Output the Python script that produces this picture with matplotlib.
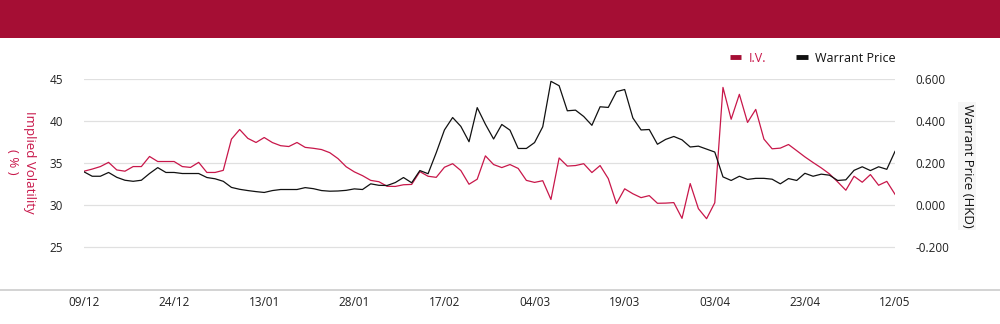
"""
Implied volatility vs warrant price, daily, 09/12 - 12/05.
"""

import matplotlib
matplotlib.use("Agg")
import matplotlib.pyplot as plt
from matplotlib.lines import Line2D
from matplotlib.patches import Rectangle
from matplotlib.ticker import FormatStrFormatter

plt.rcParams["font.family"] = ["Open Sans", "DejaVu Sans"]

# tick labels, one every 11 trading days
tick_labels = ["09/12", "24/12", "13/01", "28/01", "17/02",
               "04/03", "19/03", "03/04", "23/04", "12/05"]
tick_step = 11

# implied volatility (%), left axis
iv = [
    34.05, 34.3, 34.6, 35.1, 34.2, 34.05, 34.6, 34.6, 35.8, 35.2,
    35.2, 35.2, 34.6, 34.5, 35.1, 33.9, 33.9, 34.15, 37.86, 39.0,
    37.95, 37.46, 38.05, 37.45, 37.08, 36.98, 37.46, 36.88, 36.77, 36.62,
    36.25, 35.55, 34.58, 33.97, 33.52, 32.96, 32.8, 32.26, 32.24, 32.44,
    32.48, 34.0, 33.45, 33.32, 34.52, 34.94, 34.13, 32.5, 33.1, 35.87,
    34.84, 34.48, 34.84, 34.38, 32.96, 32.72, 32.92, 30.69, 35.62, 34.66,
    34.72, 34.94, 33.89, 34.72, 33.17, 30.2, 31.96, 31.37, 30.91, 31.15,
    30.24, 30.26, 30.32, 28.45, 32.58, 29.6, 28.41, 30.3, 44.0, 40.22,
    43.18, 39.84, 41.39, 37.86, 36.71, 36.79, 37.22, 36.49, 35.75, 35.08,
    34.44, 33.73, 32.78, 31.79, 33.45, 32.74, 33.65, 32.38, 32.84, 31.31,
]

# warrant price (HKD), right axis
price = [
    0.159, 0.138, 0.138, 0.156, 0.133, 0.119, 0.114, 0.119, 0.151, 0.179,
    0.156, 0.156, 0.151, 0.151, 0.151, 0.132, 0.126, 0.114, 0.085, 0.076,
    0.070, 0.065, 0.061, 0.070, 0.075, 0.075, 0.075, 0.084, 0.079, 0.070,
    0.067, 0.068, 0.071, 0.078, 0.075, 0.102, 0.095, 0.094, 0.108, 0.132,
    0.107, 0.165, 0.150, 0.250, 0.358, 0.417, 0.375, 0.302, 0.464, 0.385,
    0.315, 0.384, 0.357, 0.270, 0.270, 0.298, 0.373, 0.589, 0.568, 0.449,
    0.452, 0.422, 0.380, 0.468, 0.465, 0.540, 0.550, 0.415, 0.358, 0.360,
    0.290, 0.313, 0.327, 0.311, 0.277, 0.281, 0.267, 0.253, 0.135, 0.118,
    0.138, 0.123, 0.128, 0.128, 0.124, 0.102, 0.127, 0.118, 0.152, 0.138,
    0.148, 0.143, 0.118, 0.121, 0.166, 0.183, 0.165, 0.183, 0.171, 0.256,
]

RED = "#C8174A"
DARK_RED = "#A50E34"
GRID = "#e0e0e0"

W, H = 1000, 324
fig = plt.figure(figsize=(W / 100, H / 100), dpi=100)

# header band
fig.add_artist(Rectangle((0, 1 - 38 / H), 1, 38 / H, transform=fig.transFigure,
                         facecolor=DARK_RED, edgecolor="none"))

left, right = 84 / W, 895 / W
bottom, top = 1 - 289.5 / H, 1 - 79 / H
ax = fig.add_axes([left, bottom, right - left, top - bottom])
ax2 = ax.twinx()

x = list(range(len(iv)))
ax.plot(x, iv, color=RED, lw=0.9, zorder=3)
ax2.plot(x, price, color="#111111", lw=0.9, zorder=3)

ax.set_xlim(0, len(iv) - 1)
ax.set_ylim(20, 45)
ax.set_yticks([25, 30, 35, 40, 45])
ax2.set_ylim(-0.4, 0.6)
ax2.set_yticks([-0.2, 0.0, 0.2, 0.4, 0.6])
ax2.yaxis.set_major_formatter(FormatStrFormatter("%.3f"))

ax.set_xticks(range(0, len(iv), tick_step))
ax.set_xticklabels(tick_labels)

ax.grid(axis="y", color=GRID, lw=0.9)
ax.set_axisbelow(True)
for a in (ax, ax2):
    for s in a.spines.values():
        s.set_visible(False)
    a.tick_params(length=0, labelsize=8.5, colors="#222222")
ax.tick_params(axis="y", pad=15)
ax2.tick_params(axis="y", pad=15)
ax.tick_params(axis="x", pad=5)

# full-width baseline
fig.add_artist(Line2D([0, 1], [bottom, bottom], transform=fig.transFigure,
                      color="#cccccc", lw=1.2))

fig.text(21 / W, 1 - 162 / H, "Implied Volatility\n( % )", rotation=270,
         ha="center", va="center", color=RED, fontsize=9.5,
         multialignment="center", linespacing=1.4)
fig.text(967 / W, 1 - 166 / H, "Warrant Price (HKD)", rotation=270,
         ha="center", va="center", color="#111111", fontsize=9.5,
         bbox=dict(facecolor="#f6f6f6", edgecolor="none", pad=1.5))

handles = [Line2D([], [], color=DARK_RED, lw=3.5, solid_capstyle="butt"),
           Line2D([], [], color="#111111", lw=3.5, solid_capstyle="butt")]
leg = fig.legend(handles, ["I.V.", "Warrant Price"], ncol=2, frameon=False,
                 loc="center right", bbox_to_anchor=(907 / W, 1 - 58 / H),
                 handlelength=0.9, handletextpad=0.6, columnspacing=2.4,
                 fontsize=9)
leg.get_texts()[0].set_color(RED)
leg.get_texts()[1].set_color("#111111")

fig.savefig("out.png", dpi=100)
